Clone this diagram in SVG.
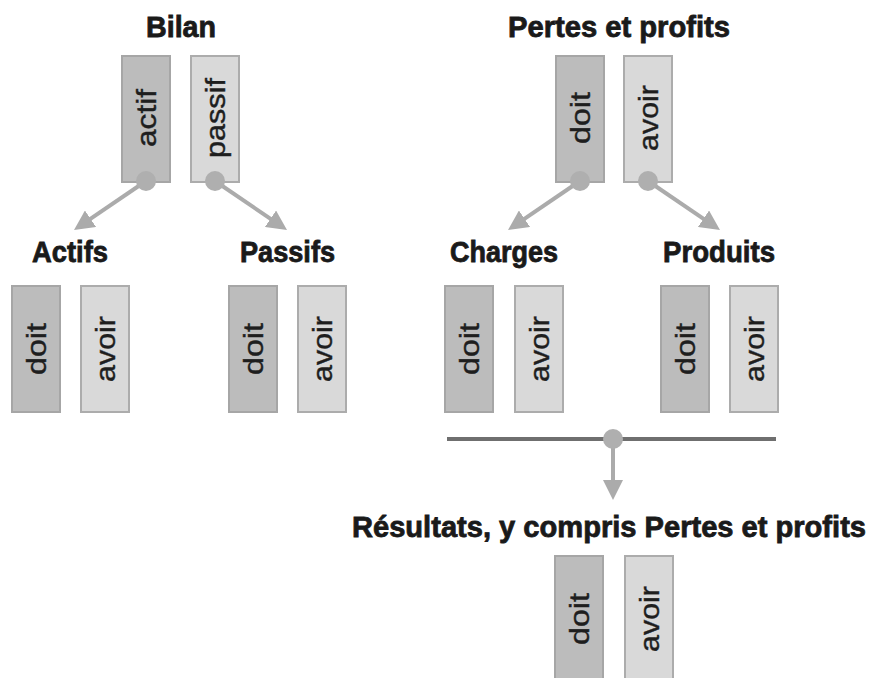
<svg xmlns="http://www.w3.org/2000/svg" width="869" height="678" viewBox="0 0 869 678">
  <style>
    .title { font-family: "Liberation Sans", Arial, sans-serif; font-weight: bold; font-size: 29px; fill: #1a1a1a; stroke: #1a1a1a; stroke-width: 0.8; text-anchor: middle; }
    .lbl { font-family: "Liberation Sans", Arial, sans-serif; font-size: 28px; fill: #1e1e1e; stroke: #1e1e1e; stroke-width: 0.4; text-anchor: middle; }
    .debit { fill: #bcbcbc; stroke: #a6a6a6; stroke-width: 2; }
    .credit { fill: #d9d9d9; stroke: #acacac; stroke-width: 2; }
    .arrow { stroke: #ababab; stroke-width: 4; fill: none; marker-end: url(#head); }
    .dot { fill: #afafaf; }
    .bar { stroke: #6f6f6f; stroke-width: 4; }
  </style>
  <defs>
    <marker id="head" markerUnits="userSpaceOnUse" markerWidth="20" markerHeight="20" viewBox="0 0 20 20" refX="2" refY="10" orient="auto">
      <path d="M0,0 L20,10 L0,20 z" fill="#ababab"/>
    </marker>
  </defs>
  <rect width="869" height="678" fill="#ffffff"/>

  <!-- Balance sheet -->
  <g id="bilan">
    <text class="title" x="181" y="37" textLength="70" lengthAdjust="spacingAndGlyphs">Bilan</text>
    <rect class="debit" x="122" y="56" width="48" height="126"/>
    <text class="lbl" transform="translate(156,118) rotate(-90)" textLength="58" lengthAdjust="spacingAndGlyphs">actif</text>
    <rect class="credit" x="191" y="56" width="48" height="126"/>
    <text class="lbl" transform="translate(225,118) rotate(-90)" textLength="80" lengthAdjust="spacingAndGlyphs">passif</text>
  </g>

  <g id="actifs">
    <text class="title" x="70" y="262" textLength="76" lengthAdjust="spacingAndGlyphs">Actifs</text>
    <rect class="debit" x="12" y="286" width="48" height="126"/>
    <text class="lbl" transform="translate(46,349) rotate(-90)" textLength="52" lengthAdjust="spacingAndGlyphs">doit</text>
    <rect class="credit" x="81" y="286" width="48" height="126"/>
    <text class="lbl" transform="translate(115,349) rotate(-90)" textLength="66" lengthAdjust="spacingAndGlyphs">avoir</text>
  </g>

  <g id="passifs">
    <text class="title" x="287.5" y="262" textLength="95" lengthAdjust="spacingAndGlyphs">Passifs</text>
    <rect class="debit" x="229" y="286" width="48" height="126"/>
    <text class="lbl" transform="translate(263,349) rotate(-90)" textLength="52" lengthAdjust="spacingAndGlyphs">doit</text>
    <rect class="credit" x="298" y="286" width="48" height="126"/>
    <text class="lbl" transform="translate(332,349) rotate(-90)" textLength="66" lengthAdjust="spacingAndGlyphs">avoir</text>
  </g>

  <!-- Profit and loss -->
  <g id="pertes-profits">
    <text class="title" x="619" y="37" textLength="222" lengthAdjust="spacingAndGlyphs">Pertes et profits</text>
    <rect class="debit" x="556" y="56" width="48" height="126"/>
    <text class="lbl" transform="translate(590,118) rotate(-90)" textLength="52" lengthAdjust="spacingAndGlyphs">doit</text>
    <rect class="credit" x="624" y="56" width="48" height="126"/>
    <text class="lbl" transform="translate(658,118) rotate(-90)" textLength="66" lengthAdjust="spacingAndGlyphs">avoir</text>
  </g>

  <g id="charges">
    <text class="title" x="504" y="262" textLength="108" lengthAdjust="spacingAndGlyphs">Charges</text>
    <rect class="debit" x="445" y="286" width="48" height="126"/>
    <text class="lbl" transform="translate(479,349) rotate(-90)" textLength="52" lengthAdjust="spacingAndGlyphs">doit</text>
    <rect class="credit" x="515" y="286" width="48" height="126"/>
    <text class="lbl" transform="translate(549,349) rotate(-90)" textLength="66" lengthAdjust="spacingAndGlyphs">avoir</text>
  </g>

  <g id="produits">
    <text class="title" x="719" y="262" textLength="112" lengthAdjust="spacingAndGlyphs">Produits</text>
    <rect class="debit" x="661" y="286" width="48" height="126"/>
    <text class="lbl" transform="translate(695,349) rotate(-90)" textLength="52" lengthAdjust="spacingAndGlyphs">doit</text>
    <rect class="credit" x="730" y="286" width="48" height="126"/>
    <text class="lbl" transform="translate(764,349) rotate(-90)" textLength="66" lengthAdjust="spacingAndGlyphs">avoir</text>
  </g>

  <g id="resultats">
    <text class="title" x="609" y="537" textLength="514" lengthAdjust="spacingAndGlyphs">Résultats, y compris Pertes et profits</text>
    <rect class="debit" x="555" y="556" width="48" height="126"/>
    <text class="lbl" transform="translate(589,619) rotate(-90)" textLength="52" lengthAdjust="spacingAndGlyphs">doit</text>
    <rect class="credit" x="625" y="556" width="48" height="126"/>
    <text class="lbl" transform="translate(659,619) rotate(-90)" textLength="66" lengthAdjust="spacingAndGlyphs">avoir</text>
  </g>

  <!-- Connectors -->
  <g id="connectors">
    <line class="bar" x1="447" y1="439" x2="776" y2="439"/>
    <line class="arrow" x1="146" y1="181" x2="88.9" y2="219.9"/>
    <line class="arrow" x1="215" y1="181" x2="272.1" y2="219.9"/>
    <line class="arrow" x1="580" y1="181" x2="522.9" y2="219.9"/>
    <line class="arrow" x1="648" y1="181" x2="705.1" y2="219.9"/>
    <line class="arrow" x1="613" y1="439" x2="613" y2="482"/>
    <circle class="dot" cx="146" cy="181" r="10"/>
    <circle class="dot" cx="215" cy="181" r="10"/>
    <circle class="dot" cx="580" cy="181" r="10"/>
    <circle class="dot" cx="648" cy="181" r="10"/>
    <circle class="dot" cx="613" cy="439" r="10"/>
  </g>
</svg>
